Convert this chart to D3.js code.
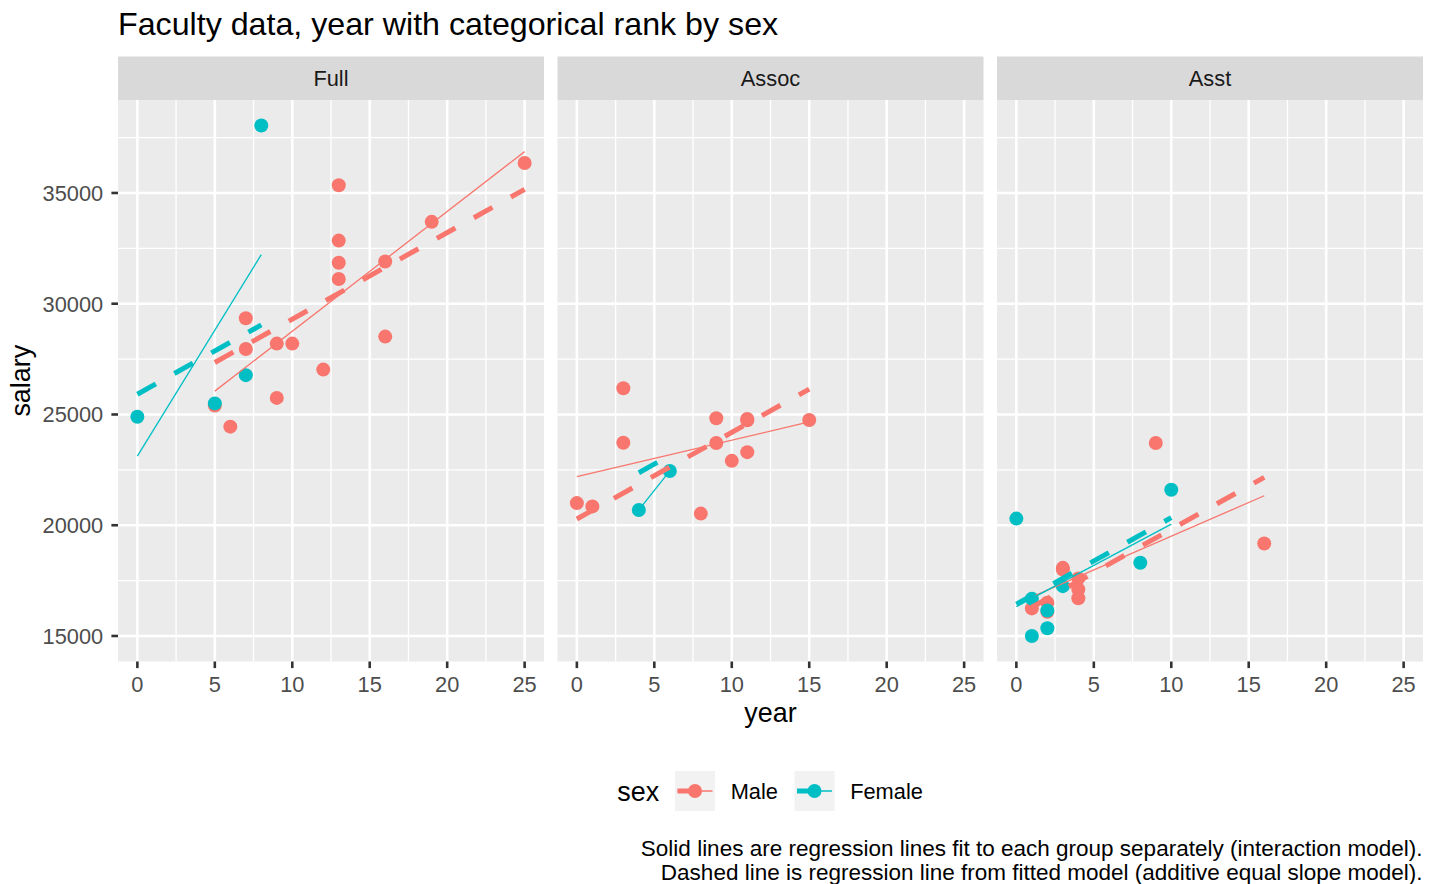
<!DOCTYPE html>
<html><head><meta charset="utf-8">
<script src="https://cdn.jsdelivr.net/npm/d3@7"></script>
<style>body{margin:0;background:#fff} text{font-family:"Liberation Sans",Arial,sans-serif}</style>
</head><body>
<svg id="c" width="1433" height="884"></svg>
<script>
// ---------------- data ----------------
const sexLevels = ["Male", "Female"];
const rankLevels = ["Full", "Assoc", "Asst"];
const sex = ["Male","Male","Male","Female","Male","Male","Female","Male","Male","Male","Male","Male","Male","Male","Male","Male","Male","Male","Male","Male","Male","Male","Male","Female","Male","Male","Male","Female","Male","Male","Female","Male","Male","Female","Female","Male","Female","Male","Male","Male","Male","Male","Male","Female","Male","Male","Female","Female","Male","Female","Female","Female"];
const rank = ["Full","Full","Full","Full","Full","Full","Full","Full","Full","Full","Full","Assoc","Full","Assoc","Full","Full","Full","Assoc","Assoc","Full","Asst","Assoc","Full","Full","Assoc","Full","Assoc","Full","Assoc","Assoc","Asst","Assoc","Asst","Assoc","Assoc","Assoc","Asst","Asst","Asst","Asst","Asst","Asst","Assoc","Asst","Asst","Asst","Asst","Asst","Asst","Asst","Asst","Asst"];
const year = [25,13,10,7,19,16,0,16,13,13,12,15,9,9,9,7,13,11,10,6,16,8,7,8,9,5,11,5,3,3,10,11,9,4,6,1,8,4,4,4,3,3,0,3,2,2,2,2,1,1,1,0];
const salary = [36350,35350,28200,26775,33696,28516,24900,31909,31850,32850,27025,24750,28200,23712,25748,29342,31114,24742,22906,24450,19175,20525,27959,38045,24832,25400,24800,25500,26182,23725,21600,23300,23713,20690,22450,20850,18304,17095,16700,17600,18075,18000,20999,17250,16500,16094,16150,15350,16244,16686,15000,20300];
const xTicks = [0, 5, 10, 15, 20, 25];
const xMinor = [2.5, 7.5, 12.5, 17.5, 22.5];
const yTicks = [15000, 20000, 25000, 30000, 35000];
const yMinor = [17500, 22500, 27500, 32500, 37500];
const colors = {Male: "#F8766D", Female: "#00BFC4"};
const titleText = "Faculty data, year with categorical rank by sex";
const captionLines = ["Solid lines are regression lines fit to each group separately (interaction model).",
                      "Dashed line is regression line from fitted model (additive equal slope model)."];

// ---------------- models ----------------
const rows = salary.map((s, i) => ({sex: sex[i], rank: rank[i], year: year[i], salary: s}));

function solve(A, b) {
  const n = b.length;
  const M = A.map((r, i) => r.concat([b[i]]));
  for (let c = 0; c < n; c++) {
    let p = c;
    for (let r = c + 1; r < n; r++) if (Math.abs(M[r][c]) > Math.abs(M[p][c])) p = r;
    [M[c], M[p]] = [M[p], M[c]];
    for (let r = 0; r < n; r++) {
      if (r === c) continue;
      const f = M[r][c] / M[c][c];
      for (let k = c; k <= n; k++) M[r][k] -= f * M[c][k];
    }
  }
  return M.map((r, i) => r[n] / r[i]);
}
function ols(X, y) {
  const p = X[0].length;
  const XtX = d3.range(p).map(i => d3.range(p).map(j => d3.sum(X, r => r[i] * r[j])));
  const Xty = d3.range(p).map(i => d3.sum(X, (r, k) => r[i] * y[k]));
  return solve(XtX, Xty);
}
// additive model: salary ~ year + rank + sex
const design = r => [1, r.year, r.rank === "Assoc" ? 1 : 0, r.rank === "Full" ? 1 : 0, r.sex === "Female" ? 1 : 0];
const beta = ols(rows.map(design), rows.map(r => r.salary));
const addPred = (rk, sx, x) => d3.sum(design({rank: rk, sex: sx, year: x}).map((v, i) => v * beta[i]));

// ---------------- layout ----------------
const svg = d3.select("#c");
const panelX = [118, 557.5, 997];
const panelW = 426;
const panelTop = 100, panelBot = 661.5;
const stripTop = 56.5;
const dashW = 5.0, dashPat = "21.2 21.2";

const xExt = d3.extent(year), xPad = (xExt[1] - xExt[0]) * 0.05;
const yExt = d3.extent(salary), yPad = (yExt[1] - yExt[0]) * 0.05;
const x = d3.scaleLinear().domain([xExt[0] - xPad, xExt[1] + xPad]).range([0, panelW]);
const y = d3.scaleLinear().domain([yExt[0] - yPad, yExt[1] + yPad]).range([panelBot, panelTop]);

// title
svg.append("text").attr("x", 118).attr("y", 34.5).attr("font-size", 32.2).attr("fill", "#000").text(titleText);

rankLevels.forEach((rk, pi) => {
  const g = svg.append("g").attr("transform", `translate(${panelX[pi]},0)`);
  g.append("rect").attr("x", 0).attr("y", panelTop).attr("width", panelW).attr("height", panelBot - panelTop).attr("fill", "#EBEBEB");
  // minor grid
  g.selectAll(".xm").data(xMinor).join("line").attr("x1", d => x(d)).attr("x2", d => x(d)).attr("y1", panelTop).attr("y2", panelBot).attr("stroke", "#fff").attr("stroke-width", 1.3);
  g.selectAll(".ym").data(yMinor).join("line").attr("x1", 0).attr("x2", panelW).attr("y1", d => y(d)).attr("y2", d => y(d)).attr("stroke", "#fff").attr("stroke-width", 1.3);
  // major grid
  g.selectAll(".xM").data(xTicks).join("line").attr("x1", d => x(d)).attr("x2", d => x(d)).attr("y1", panelTop).attr("y2", panelBot).attr("stroke", "#fff").attr("stroke-width", 2.6);
  g.selectAll(".yM").data(yTicks).join("line").attr("x1", 0).attr("x2", panelW).attr("y1", d => y(d)).attr("y2", d => y(d)).attr("stroke", "#fff").attr("stroke-width", 2.6);
  // strip
  g.append("rect").attr("x", 0).attr("y", stripTop).attr("width", panelW).attr("height", panelTop - stripTop).attr("fill", "#D9D9D9");
  g.append("text").attr("x", panelW / 2).attr("y", (stripTop + panelTop) / 2 + 7.7).attr("text-anchor", "middle").attr("font-size", 21.8).attr("fill", "#1A1A1A").text(rk);

  const pts = rows.filter(r => r.rank === rk);
  // points (Male then Female)
  sexLevels.forEach(sx => {
    g.selectAll(null).data(pts.filter(r => r.sex === sx)).join("circle")
      .attr("cx", d => x(d.year)).attr("cy", d => y(d.salary)).attr("r", 7).attr("fill", colors[sx]);
  });
  // solid separate regressions
  sexLevels.forEach(sx => {
    const gp = pts.filter(r => r.sex === sx);
    if (gp.length < 2) return;
    const b = ols(gp.map(r => [1, r.year]), gp.map(r => r.salary));
    const [x0, x1] = d3.extent(gp, r => r.year);
    g.append("path").attr("d", d3.line()([[x(x0), y(b[0] + b[1] * x0)], [x(x1), y(b[0] + b[1] * x1)]]))
      .attr("stroke", colors[sx]).attr("stroke-width", 1.3).attr("fill", "none");
  });
  // dashed additive model
  sexLevels.forEach(sx => {
    const gp = pts.filter(r => r.sex === sx);
    if (gp.length < 1) return;
    const [x0, x1] = d3.extent(gp, r => r.year);
    g.append("path").attr("d", d3.line()([[x(x0), y(addPred(rk, sx, x0))], [x(x1), y(addPred(rk, sx, x1))]]))
      .attr("stroke", colors[sx]).attr("stroke-width", dashW).attr("stroke-dasharray", dashPat).attr("fill", "none");
  });
  // x axis
  g.selectAll(".xt").data(xTicks).join("line").attr("x1", d => x(d)).attr("x2", d => x(d)).attr("y1", panelBot).attr("y2", panelBot + 6.6).attr("stroke", "#333").attr("stroke-width", 2.6);
  g.selectAll(".xl").data(xTicks).join("text").attr("x", d => x(d)).attr("y", 692).attr("text-anchor", "middle").attr("font-size", 21.8).attr("fill", "#4D4D4D").text(d => d);
  if (pi === 0) {
    g.selectAll(".yt").data(yTicks).join("line").attr("x1", -6.6).attr("x2", 0).attr("y1", d => y(d)).attr("y2", d => y(d)).attr("stroke", "#333").attr("stroke-width", 2.6);
    g.selectAll(".yl").data(yTicks).join("text").attr("x", -14.8).attr("y", d => y(d) + 7.9).attr("text-anchor", "end").attr("font-size", 21.8).attr("fill", "#4D4D4D").text(d => d);
  }
});

// axis titles
svg.append("text").attr("x", (panelX[0] + panelX[2] + panelW) / 2).attr("y", 721.5).attr("text-anchor", "middle").attr("font-size", 26.9).text("year");
svg.append("text").attr("transform", `translate(29.5,${(panelTop + panelBot) / 2}) rotate(-90)`).attr("text-anchor", "middle").attr("font-size", 26.9).text("salary");

// legend
const lg = svg.append("g");
lg.append("text").attr("x", 617.3).attr("y", 800.5).attr("font-size", 26.9).text("sex");
const keyX = [675, 794.5], labX = [730.7, 850.2];
sexLevels.forEach((sx, i) => {
  const kx = keyX[i], ky = 771, ks = 40;
  lg.append("rect").attr("x", kx).attr("y", ky).attr("width", ks).attr("height", ks).attr("fill", "#F2F2F2");
  lg.append("circle").attr("cx", kx + ks / 2).attr("cy", ky + ks / 2).attr("r", 7).attr("fill", colors[sx]);
  lg.append("line").attr("x1", kx + 2.5).attr("x2", kx + 37.5).attr("y1", ky + ks / 2).attr("y2", ky + ks / 2).attr("stroke", colors[sx]).attr("stroke-width", 1.3);
  lg.append("line").attr("x1", kx + 2.5).attr("x2", kx + 37.5).attr("y1", ky + ks / 2).attr("y2", ky + ks / 2).attr("stroke", colors[sx]).attr("stroke-width", dashW).attr("stroke-dasharray", dashPat);
  lg.append("text").attr("x", labX[i]).attr("y", 798.5).attr("font-size", 21.8).text(sx);
});

// caption
captionLines.forEach((t, i) => {
  svg.append("text").attr("x", 1422.5).attr("y", 855.5 + i * 24).attr("text-anchor", "end").attr("font-size", 22.5).text(t);
});
</script>
</body></html>
